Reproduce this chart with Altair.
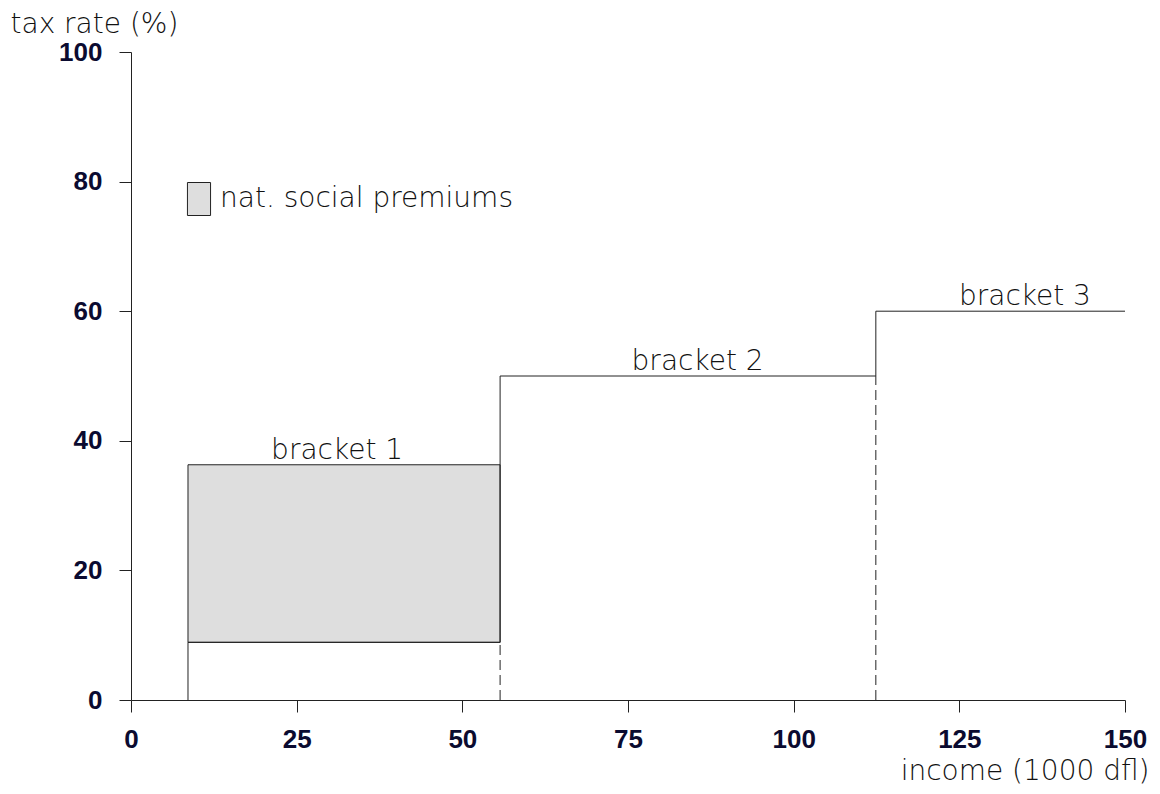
import altair as alt
import pandas as pd

# ---- data ----
bracket_names = ["bracket 1", "bracket 2", "bracket 3"]
bracket_start = [8.6, 55.7, 112.4]
bracket_end = [55.7, 112.4, 150.0]
bracket_rate = [36.3, 50.0, 60.0]
base_tax_rate = 8.9          # bracket 1 rate without national social premiums
label_x = [31.1, 85.5, 134.9]
legend_label = "nat. social premiums"

x_ticks = [0, 25, 50, 75, 100, 125, 150]
y_ticks = [0, 20, 40, 60, 80, 100]

TEXT_FONT = "DejaVu Sans"
TICK_FONT = "Liberation Sans"
LINE = "#222222"
NAVY = "#0b0b30"
TXT = 28

# step line: tax rate excluding premiums in bracket 1, then brackets 2 and 3
step_df = pd.DataFrame({
    "x": [bracket_start[0], bracket_start[0], bracket_start[1], bracket_start[2], bracket_end[2]],
    "y": [0, base_tax_rate, bracket_rate[1], bracket_rate[2], bracket_rate[2]],
    "o": [0, 1, 2, 3, 4],
})

prem_df = pd.DataFrame({
    "x": [bracket_start[0]], "x2": [bracket_end[0]],
    "y": [base_tax_rate], "y2": [bracket_rate[0]],
    "label": [legend_label],
})

dash_df = pd.DataFrame({
    "x": [bracket_start[1], bracket_start[2]],
    "y": [0, 0],
    "y2": [base_tax_rate, bracket_rate[1]],
})

lab_df = pd.DataFrame({"x": label_x, "y": bracket_rate, "t": bracket_names})

xscale = alt.Scale(domain=[0, 150], nice=False, zero=False)
yscale = alt.Scale(domain=[0, 100], nice=False)

xaxis = alt.Axis(values=x_ticks, title="income (1000 dfl)", grid=False,
                 tickSize=12, labelPadding=14, labelFont=TICK_FONT,
                 labelFontWeight="bold", labelFontSize=26, labelColor=NAVY,
                 titleFont=TEXT_FONT, titleFontWeight=200, titleFontSize=TXT,
                 titleColor="#111111", titleAlign="right", titleAnchor="start",
                 titleX=1018, titleY=79, titleBaseline="alphabetic",
                 domainColor=LINE, tickColor=LINE, labelFlush=False)
yaxis = alt.Axis(values=y_ticks, title="tax rate (%)", grid=False,
                 tickSize=12, labelPadding=17, labelFont=TICK_FONT,
                 labelFontWeight="bold", labelFontSize=26, labelColor=NAVY,
                 titleFont=TEXT_FONT, titleFontWeight=200, titleFontSize=TXT,
                 titleColor="#111111", titleAngle=0, titleAlign="left",
                 titleX=-121, titleY=-20, titleBaseline="alphabetic",
                 domainColor=LINE, tickColor=LINE, labelFlush=False)

rect = alt.Chart(prem_df).mark_rect(stroke=LINE, strokeWidth=1).encode(
    x=alt.X("x:Q", scale=xscale, axis=xaxis),
    x2="x2:Q",
    y=alt.Y("y:Q", scale=yscale, axis=yaxis),
    y2="y2:Q",
    color=alt.Color("label:N",
                    scale=alt.Scale(domain=[legend_label], range=["#dedede"]),
                    legend=alt.Legend(title=None, orient="none", legendX=51, legendY=130,
                                      padding=0, symbolType="M-0.7,-1L0.7,-1L0.7,1L-0.7,1Z",
                                      symbolSize=1089, symbolStrokeColor=LINE,
                                      symbolStrokeWidth=1, symbolFillColor="#dedede",
                                      labelFont=TEXT_FONT, labelFontWeight=200,
                                      labelFontSize=TXT, labelColor="#111111",
                                      labelOffset=4, labelLimit=400)),
)

step = alt.Chart(step_df).mark_line(interpolate="step-after", color=LINE, strokeWidth=1).encode(
    x=alt.X("x:Q", scale=xscale), y=alt.Y("y:Q", scale=yscale), order="o:Q")

dashes = alt.Chart(dash_df).mark_rule(color=LINE, strokeWidth=1, strokeDash=[10, 5]).encode(
    x=alt.X("x:Q", scale=xscale), y=alt.Y("y:Q", scale=yscale), y2="y2:Q")

labels = alt.Chart(lab_df).mark_text(font=TEXT_FONT, fontWeight=200, fontSize=TXT,
                                     color="#111111", baseline="alphabetic",
                                     align="center", dy=-6).encode(
    x=alt.X("x:Q", scale=xscale), y=alt.Y("y:Q", scale=yscale), text="t:N")

chart = alt.layer(rect, step, dashes, labels).properties(
    width=994, height=648,
    autosize=alt.AutoSizeParams(type="none"),
    padding={"left": 123, "top": 44, "right": 27, "bottom": 85},
).configure(background="white").configure_view(stroke="transparent", strokeWidth=0)

chart.save("out.html", embed_options={"renderer": "svg", "actions": False})
